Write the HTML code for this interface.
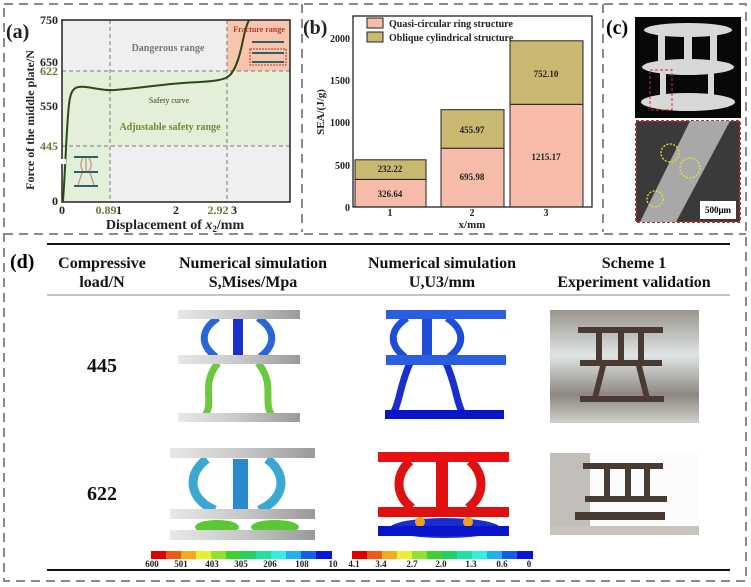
<!DOCTYPE html>
<html><head><meta charset="utf-8"><style>
html,body{margin:0;padding:0;background:#fff;}
svg{display:block;font-family:"Liberation Serif",serif;}
</style></head><body>
<svg width="751" height="587" viewBox="0 0 751 587" xmlns="http://www.w3.org/2000/svg">
<defs>
<linearGradient id="pl" x1="0" x2="1"><stop offset="0" stop-color="#e8e8e8"/><stop offset="0.5" stop-color="#c8c8c8"/><stop offset="1" stop-color="#9a9a9a"/></linearGradient>
<linearGradient id="bw" x1="0" x2="0" y1="0" y2="1"><stop offset="0" stop-color="#9a948c"/><stop offset="0.4" stop-color="#dfe5e4"/><stop offset="0.75" stop-color="#8d8780"/><stop offset="1" stop-color="#d2d0cb"/></linearGradient>
</defs>
<g stroke="#8a8a8a" stroke-width="2" stroke-dasharray="9,6" fill="none">
<rect x="4" y="4" width="742" height="577"/>
<line x1="302" y1="4" x2="302" y2="232"/>
<line x1="603" y1="4" x2="603" y2="232"/>
<line x1="4" y1="234" x2="746" y2="234"/>
</g>
<!-- panel a -->
<rect x="62" y="20" width="228" height="182" fill="#efefef"/>
<rect x="62" y="71" width="228" height="75" fill="#e3efd9"/>
<rect x="62" y="146" width="48" height="56" fill="#e3efd9"/>
<rect x="227" y="20" width="63" height="51" fill="#f8c6ac"/>
<g stroke="#777" stroke-width="1" stroke-dasharray="4,3">
<line x1="110" y1="20" x2="110" y2="202"/><line x1="227" y1="20" x2="227" y2="202"/>
<line x1="62" y1="71" x2="290" y2="71"/><line x1="62" y1="146" x2="290" y2="146"/>
</g>
<rect x="62" y="20" width="228" height="182" fill="none" stroke="#222" stroke-width="1.5"/>
<path d="M63,201 C66,160 67,110 70,98 C72,88 76,86 86,87 C95,88 105,91 115,90 C140,88 170,83 200,82 C215,81 224,80 229,76 C236,70 240,55 243,40 C245,30 247,24 249,20" fill="none" stroke="#2a4a1a" stroke-width="2"/>
<rect x="57" y="159" width="9" height="5" fill="#fff"/>
<g font-weight="bold" font-size="12" fill="#222">
<text x="6" y="38" font-size="20">(a)</text>
<text x="58" y="24" text-anchor="end">750</text>
<text x="58" y="66" text-anchor="end">650</text>
<text x="58" y="75" text-anchor="end" fill="#6b7a3a">622</text>
<text x="58" y="110" text-anchor="end">550</text>
<text x="58" y="150" text-anchor="end" fill="#6b7a3a">445</text>
<text x="58" y="205" text-anchor="end">0</text>
<text x="62" y="214" text-anchor="middle">0</text>
<text x="106" y="214" text-anchor="middle" fill="#6b7a3a">0.89</text>
<text x="119" y="214" text-anchor="middle">1</text>
<text x="176" y="214" text-anchor="middle">2</text>
<text x="218" y="214" text-anchor="middle" fill="#6b7a3a">2.92</text>
<text x="234" y="214" text-anchor="middle">3</text>
<text x="175" y="229" text-anchor="middle" font-size="14">Displacement of <tspan font-style="italic">x</tspan><tspan font-size="9" dy="3">2</tspan><tspan dy="-3">/mm</tspan></text>
<text transform="translate(34,120) rotate(-90)" text-anchor="middle" font-size="12">Force of the middle plate/N</text>
<text x="168" y="51" text-anchor="middle" font-size="10" fill="#777">Dangerous range</text>
<text x="259" y="32" text-anchor="middle" font-size="8" fill="#b03a2a">Fracture range</text>
<text x="169" y="103" text-anchor="middle" font-size="8" fill="#2a4a1a" font-weight="normal">Safety curve</text>
<text x="170" y="130" text-anchor="middle" font-size="10" fill="#6b8a3a">Adjustable safety range</text>
</g>
<g stroke="#2e5f6e" stroke-width="2"><line x1="74" y1="157" x2="98" y2="157"/><line x1="74" y1="172" x2="98" y2="172"/><line x1="74" y1="186" x2="98" y2="186"/>
<line x1="252" y1="42" x2="284" y2="42"/><line x1="252" y1="53" x2="284" y2="53"/><line x1="252" y1="62" x2="284" y2="62"/></g>
<g stroke="#c89070" stroke-width="1.2" fill="none"><path d="M83,158 C80,163 80,167 83,171"/><path d="M89,158 C92,163 92,167 89,171"/><line x1="86" y1="158" x2="86" y2="171"/><line x1="82" y1="173" x2="78" y2="185"/><line x1="90" y1="173" x2="94" y2="185"/></g>
<rect x="250" y="49" width="36" height="16" fill="none" stroke="#c03030" stroke-dasharray="2,1"/>
<!-- panel b -->
<g stroke="#222" stroke-width="1">
<rect x="355" y="179.4" width="71" height="27.6" fill="#f6bba9"/>
<rect x="355" y="159.8" width="71" height="19.6" fill="#c8b870"/>
<rect x="441" y="148.2" width="63" height="58.8" fill="#f6bba9"/>
<rect x="441" y="109.7" width="63" height="38.5" fill="#c8b870"/>
<rect x="510" y="104.3" width="73" height="102.7" fill="#f6bba9"/>
<rect x="510" y="40.8" width="73" height="63.5" fill="#c8b870"/>
<rect x="367" y="18" width="16" height="10" fill="#f6bba9"/>
<rect x="367" y="32" width="16" height="10" fill="#c8b870"/>
</g>
<rect x="353" y="16" width="239" height="191" fill="none" stroke="#222" stroke-width="1.3"/>
<g font-weight="bold" font-size="10" fill="#222">
<text x="303" y="34" font-size="20">(b)</text>
<text x="389" y="27">Quasi-circular ring structure</text>
<text x="389" y="41">Oblique cylindrical structure</text>
<text x="350" y="42" text-anchor="end">2000</text>
<text x="350" y="84" text-anchor="end">1500</text>
<text x="350" y="126" text-anchor="end">1000</text>
<text x="350" y="169" text-anchor="end">500</text>
<text x="350" y="211" text-anchor="end">0</text>
<text x="390" y="216" text-anchor="middle">1</text>
<text x="472" y="216" text-anchor="middle">2</text>
<text x="546" y="216" text-anchor="middle">3</text>
<text x="472" y="228" text-anchor="middle" font-size="11">x/mm</text>
<text transform="translate(324,112) rotate(-90)" text-anchor="middle" font-size="11">SEA/(J/g)</text>
<text x="390" y="172" text-anchor="middle" font-size="9">232.22</text>
<text x="390" y="197" text-anchor="middle" font-size="9">326.64</text>
<text x="472" y="133" text-anchor="middle" font-size="9">455.97</text>
<text x="472" y="180" text-anchor="middle" font-size="9">695.98</text>
<text x="546" y="77" text-anchor="middle" font-size="9">752.10</text>
<text x="546" y="160" text-anchor="middle" font-size="9">1215.17</text>
</g>
<!-- panel c -->
<text x="606" y="34" font-size="20" font-weight="bold">(c)</text>
<rect x="635" y="17" width="106" height="101" fill="#080808"/>
<g fill="#d8d8d8"><ellipse cx="688" cy="30" rx="44" ry="7"/><ellipse cx="688" cy="67" rx="46" ry="8"/><ellipse cx="688" cy="102" rx="47" ry="9"/>
<rect x="658" y="33" width="7" height="32"/><rect x="684" y="33" width="8" height="32"/><rect x="710" y="33" width="7" height="32"/>
<rect x="660" y="72" width="6" height="28"/><rect x="708" y="72" width="6" height="28"/></g>
<rect x="650" y="70" width="22" height="40" fill="none" stroke="#c03030" stroke-dasharray="3,2"/>
<rect x="636" y="121" width="104" height="101" fill="#3a3a3a" stroke="#b03030" stroke-width="2" stroke-dasharray="3,2"/>
<path d="M690,121 L730,121 L676,222 L640,222 Z" fill="#a8a8a8"/>
<g fill="none" stroke="#e8e040" stroke-width="1.3" stroke-dasharray="2,1.5"><circle cx="670" cy="153" r="9"/><circle cx="690" cy="168" r="10"/><circle cx="655" cy="199" r="8"/></g>
<rect x="700" y="201" width="36" height="18" fill="#fff"/>
<text x="718" y="213" text-anchor="middle" font-size="9" font-weight="bold">500μm</text>
<!-- panel d -->
<text x="10" y="268" font-size="20" font-weight="bold">(d)</text>
<line x1="47" y1="244" x2="730" y2="244" stroke="#111" stroke-width="2"/>
<line x1="47" y1="295" x2="730" y2="295" stroke="#888" stroke-width="1"/>
<line x1="47" y1="570" x2="730" y2="570" stroke="#111" stroke-width="2"/>
<g font-weight="bold" font-size="16" text-anchor="middle" fill="#111">
<text x="102" y="268">Compressive</text><text x="102" y="287">load/N</text>
<text x="253" y="268">Numerical simulation</text><text x="253" y="287">S,Mises/Mpa</text>
<text x="442" y="268">Numerical simulation</text><text x="442" y="287">U,U3/mm</text>
<text x="634" y="268">Scheme 1</text><text x="634" y="287">Experiment validation</text>
<text x="102" y="372" font-size="20">445</text>
<text x="102" y="500" font-size="20">622</text>
</g>
<g fill="none" stroke-width="7">
<path d="M218,318 C200,330 200,345 216,357" stroke="#2a66d8"/><path d="M258,318 C276,330 276,345 260,357" stroke="#2a66d8"/>
<path d="M218,363 C200,385 215,400 205,416" stroke="#6cc840"/><path d="M258,363 C276,385 262,400 272,416" stroke="#6cc840"/>
</g>
<rect x="233" y="318" width="10" height="38" fill="#1a2fd0"/>
<rect x="178" y="310" width="122" height="9" fill="url(#pl)"/><rect x="178" y="355" width="122" height="9" fill="url(#pl)"/><rect x="178" y="413" width="122" height="9" fill="url(#pl)"/>
<g fill="none" stroke-width="7" stroke="#1e4ed8">
<path d="M407,318 C389,330 389,345 405,357"/><path d="M447,318 C465,330 465,345 449,357"/>
<path d="M410,363 C400,385 400,400 394,412" stroke="#1a2ed0"/><path d="M446,363 C456,385 456,400 462,412" stroke="#1a2ed0"/>
</g>
<rect x="422" y="318" width="10" height="38" fill="#1e4ed8"/>
<rect x="386" y="310" width="120" height="9" fill="#2a5ee0"/><rect x="386" y="355" width="120" height="10" fill="#2a5ee0"/><rect x="385" y="410" width="119" height="9" fill="#0a14c8"/>
<g fill="none" stroke-width="9" stroke="#3aa8d0">
<path d="M207,459 C185,475 190,500 215,510"/><path d="M267,459 C289,475 284,500 259,510"/></g>
<rect x="233" y="459" width="15" height="50" fill="#2a8ad0"/>
<ellipse cx="217" cy="527" rx="22" ry="7" fill="#5ac830"/><ellipse cx="275" cy="527" rx="24" ry="7" fill="#5ac830"/>
<rect x="170" y="448" width="145" height="10" fill="url(#pl)"/><rect x="170" y="509" width="145" height="10" fill="url(#pl)"/><rect x="170" y="530" width="145" height="10" fill="url(#pl)"/>
<g fill="none" stroke-width="9" stroke="#e01010">
<path d="M410,461 C395,475 395,495 412,508"/><path d="M470,461 C485,475 485,495 468,508"/></g>
<rect x="436" y="461" width="12" height="47" fill="#e01010"/>
<ellipse cx="445" cy="528" rx="55" ry="10" fill="#1a2ed0"/>
<circle cx="420" cy="522" r="5" fill="#f0a020"/><circle cx="468" cy="522" r="5" fill="#f0a020"/>
<rect x="378" y="452" width="131" height="10" fill="#e81010"/><rect x="378" y="507" width="131" height="10" fill="#e01010"/><rect x="378" y="526" width="131" height="10" fill="#0a14c8"/>
<g>
<rect x="151" y="551" width="15" height="8" fill="#e00000"/><rect x="166" y="551" width="15" height="8" fill="#f05a10"/><rect x="181" y="551" width="15" height="8" fill="#f8a820"/><rect x="196" y="551" width="15" height="8" fill="#e8f030"/><rect x="211" y="551" width="15" height="8" fill="#90e030"/><rect x="226" y="551" width="15" height="8" fill="#40d030"/><rect x="241" y="551" width="15" height="8" fill="#20d060"/><rect x="256" y="551" width="15" height="8" fill="#20e0a0"/><rect x="271" y="551" width="15" height="8" fill="#30f0e0"/><rect x="286" y="551" width="15" height="8" fill="#20b0f0"/><rect x="301" y="551" width="15" height="8" fill="#1060e8"/><rect x="316" y="551" width="16" height="8" fill="#0a14d8"/>
<rect x="352" y="551" width="15" height="8" fill="#e00000"/><rect x="367" y="551" width="15" height="8" fill="#f05a10"/><rect x="382" y="551" width="15" height="8" fill="#f8a820"/><rect x="397" y="551" width="15" height="8" fill="#e8f030"/><rect x="412" y="551" width="15" height="8" fill="#90e030"/><rect x="427" y="551" width="15" height="8" fill="#40d030"/><rect x="442" y="551" width="15" height="8" fill="#20d060"/><rect x="457" y="551" width="15" height="8" fill="#20e0a0"/><rect x="472" y="551" width="15" height="8" fill="#30f0e0"/><rect x="487" y="551" width="15" height="8" fill="#20b0f0"/><rect x="502" y="551" width="15" height="8" fill="#1060e8"/><rect x="517" y="551" width="16" height="8" fill="#0a14d8"/>
</g>
<g font-size="9" font-weight="bold" text-anchor="middle" fill="#222">
<text x="152" y="567">600</text><text x="181" y="567">501</text><text x="212" y="567">403</text><text x="241" y="567">305</text><text x="270" y="567">206</text><text x="302" y="567">108</text><text x="333" y="567">10</text>
<text x="354" y="567">4.1</text><text x="381" y="567">3.4</text><text x="412" y="567">2.7</text><text x="441" y="567">2.0</text><text x="471" y="567">1.3</text><text x="502" y="567">0.6</text><text x="529" y="567">0</text>
</g>
<rect x="550" y="310" width="149" height="113" fill="url(#bw)"/>
<g fill="#4a3a34"><rect x="578" y="327" width="85" height="6"/><rect x="580" y="360" width="82" height="6"/><rect x="580" y="396" width="84" height="6"/>
<rect x="596" y="333" width="6" height="28"/><rect x="618" y="333" width="6" height="28"/><rect x="638" y="333" width="6" height="28"/>
<path d="M600,366 L606,366 L598,398 L592,398Z"/><path d="M636,366 L642,366 L650,398 L644,398Z"/></g>
<rect x="550" y="453" width="149" height="82" fill="#fbfbfb"/>
<rect x="550" y="453" width="40" height="82" fill="#8a847c" opacity="0.5"/>
<g fill="#4a3a34"><rect x="583" y="463" width="80" height="6"/><rect x="585" y="496" width="82" height="6"/><rect x="575" y="512" width="90" height="8"/>
<rect x="604" y="468" width="6" height="30"/><rect x="625" y="468" width="6" height="30"/><rect x="644" y="468" width="6" height="30"/></g>
<rect x="550" y="526" width="149" height="9" fill="#c8c4bc"/>
</svg>
</body></html>
